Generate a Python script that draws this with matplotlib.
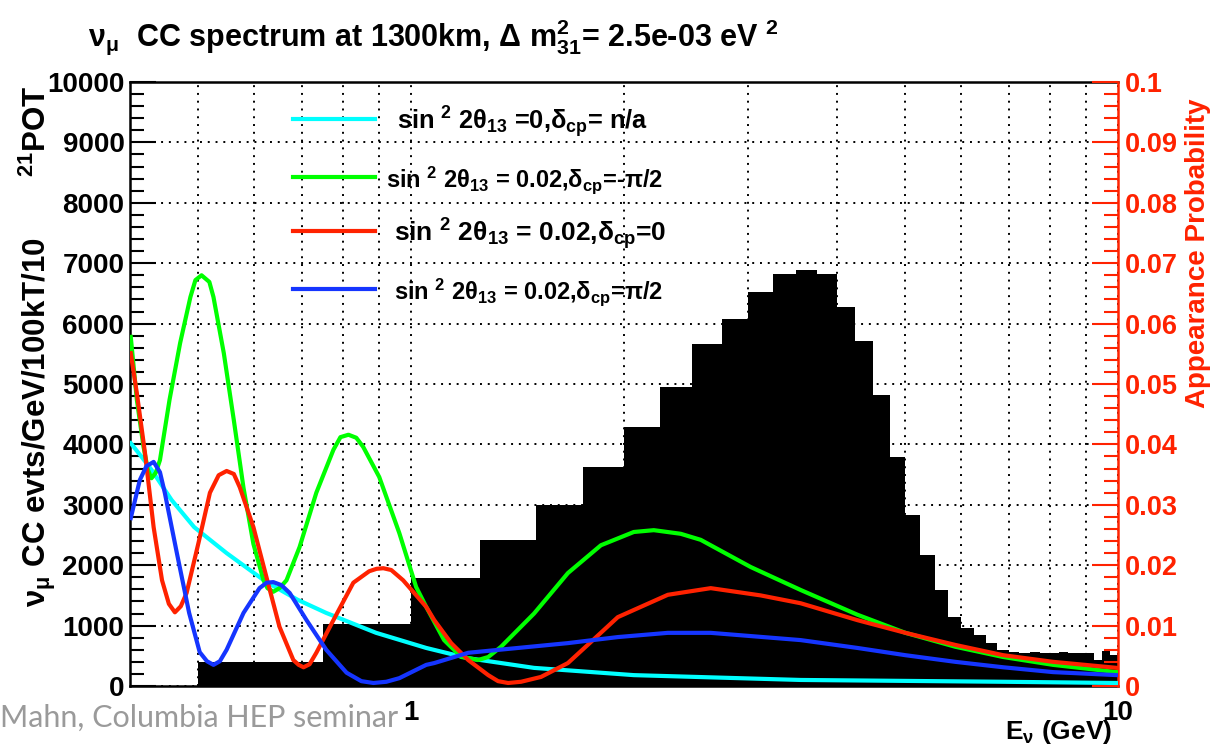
import numpy as np
import matplotlib
matplotlib.use('Agg')
from matplotlib import pyplot as plt
from matplotlib.ticker import MultipleLocator, FixedLocator, NullFormatter, FuncFormatter

plt.rcParams['font.family'] = ['Liberation Sans', 'DejaVu Sans']
plt.rcParams['font.weight'] = 'bold'
plt.rcParams['mathtext.fontset'] = 'custom'
plt.rcParams['mathtext.rm'] = 'Liberation Sans:bold'
plt.rcParams['mathtext.it'] = 'Liberation Sans:bold'
plt.rcParams['mathtext.bf'] = 'Liberation Sans:bold'
plt.rcParams['mathtext.default'] = 'rm'

RED = '#ff2200'
BLUE = '#1535ff'

# nu_mu CC spectrum, 0.25 GeV bins from 0.5 to 10 GeV
bin_edges = np.arange(0.5, 10.01, 0.25)
evts = [400, 1020, 1780, 2410, 3000, 3620, 4290, 4950, 5670, 6070,
        6520, 6820, 6880, 6820, 6270, 5720, 4820, 3790, 2830, 2170,
        1590, 1140, 960, 840, 710, 600, 560, 550, 560, 545,
        545, 560, 545, 550, 545, 430, 580, 510]

# appearance probability curves (energy in GeV)
cyan_e = [0.401, 0.415, 0.429, 0.458, 0.493, 0.548, 0.624, 0.690, 0.758, 0.892,
          1.050, 1.204, 1.492, 2.065, 3.556, 6.880, 9.967]
cyan_p = [0.0402, 0.0380, 0.0358, 0.0308, 0.0263, 0.0220, 0.0172, 0.0143, 0.0121, 0.0088,
          0.0063, 0.0046, 0.0030, 0.0018, 0.0010, 0.0007, 0.0005]

green_e = [0.401, 0.409, 0.418, 0.424, 0.429, 0.435, 0.441, 0.455, 0.471, 0.487,
           0.495, 0.505, 0.518, 0.525, 0.543, 0.561, 0.579, 0.598, 0.618, 0.626,
           0.638, 0.651, 0.666, 0.695, 0.734, 0.776, 0.794, 0.815, 0.836, 0.855,
           0.901, 0.962, 1.016, 1.050, 1.113, 1.177, 1.208, 1.243, 1.285, 1.340,
           1.492, 1.666, 1.855, 2.065, 2.204, 2.406, 2.568, 3.022, 3.556, 4.279,
           5.003, 5.886, 6.880, 8.093, 9.967]
green_p = [0.0578, 0.0474, 0.0396, 0.0358, 0.0344, 0.0353, 0.0374, 0.0474, 0.0568, 0.0644,
           0.0672, 0.0680, 0.0669, 0.0644, 0.0551, 0.0440, 0.0328, 0.0235, 0.0175, 0.0162,
           0.0156, 0.0162, 0.0175, 0.0230, 0.0320, 0.0391, 0.0412, 0.0416, 0.0411, 0.0396,
           0.0346, 0.0253, 0.0164, 0.0131, 0.0076, 0.0048, 0.0046, 0.0043, 0.0048, 0.0065,
           0.0120, 0.0187, 0.0233, 0.0255, 0.0258, 0.0252, 0.0242, 0.0197, 0.0159, 0.0118,
           0.0088, 0.0065, 0.0048, 0.0035, 0.0023]

red_e = [0.401, 0.409, 0.420, 0.432, 0.444, 0.454, 0.463, 0.472, 0.481, 0.500,
         0.519, 0.534, 0.548, 0.561, 0.572, 0.598, 0.624, 0.651, 0.681, 0.693,
         0.704, 0.718, 0.734, 0.776, 0.828, 0.872, 0.893, 0.913, 0.937, 0.974,
         1.050, 1.078, 1.139, 1.204, 1.285, 1.327, 1.371, 1.430, 1.526, 1.666,
         1.796, 1.960, 2.307, 2.653, 3.121, 3.556, 4.279, 5.003, 5.886, 6.880,
         8.093, 9.967]
red_p = [0.0551, 0.0485, 0.0386, 0.0263, 0.0175, 0.0136, 0.0122, 0.0132, 0.0154, 0.0237,
         0.0320, 0.0349, 0.0356, 0.0351, 0.0329, 0.0263, 0.0180, 0.0098, 0.0043, 0.0035,
         0.0031, 0.0036, 0.0055, 0.0109, 0.0171, 0.0190, 0.0194, 0.0195, 0.0192, 0.0175,
         0.0131, 0.0109, 0.0071, 0.0043, 0.0018, 0.0008, 0.0005, 0.0007, 0.0015, 0.0038,
         0.0073, 0.0114, 0.0151, 0.0162, 0.0150, 0.0137, 0.0109, 0.0088, 0.0068, 0.0051,
         0.0040, 0.0030]

blue_e = [0.401, 0.413, 0.422, 0.432, 0.441, 0.448, 0.466, 0.485, 0.502, 0.514,
          0.525, 0.536, 0.548, 0.579, 0.610, 0.624, 0.638, 0.655, 0.673, 0.711,
          0.758, 0.810, 0.850, 0.884, 0.922, 0.962, 1.050, 1.078, 1.204, 1.416,
          1.666, 1.960, 2.307, 2.653, 3.556, 4.279, 5.003, 5.886, 6.880, 8.093,
          9.967]
blue_p = [0.0278, 0.0341, 0.0364, 0.0371, 0.0354, 0.0320, 0.0220, 0.0121, 0.0056, 0.0041,
          0.0035, 0.0041, 0.0060, 0.0121, 0.0162, 0.0171, 0.0172, 0.0167, 0.0154, 0.0109,
          0.0060, 0.0022, 0.0008, 0.0005, 0.0007, 0.0013, 0.0035, 0.0038, 0.0055, 0.0063,
          0.0071, 0.0081, 0.0088, 0.0088, 0.0076, 0.0063, 0.0051, 0.0040, 0.0031, 0.0023,
          0.0018]

legend_labels = [r'sin $^{2}$ 2$\theta_{13}$ =0,$\delta_{cp}$= n/a',
                 r'sin $^{2}$ 2$\theta_{13}$ = 0.02,$\delta_{cp}$=-$\pi$/2',
                 r'sin $^{2}$ 2$\theta_{13}$ = 0.02,$\delta_{cp}$=0',
                 r'sin $^{2}$ 2$\theta_{13}$ = 0.02,$\delta_{cp}$=$\pi$/2']

fig = plt.figure(figsize=(12.17, 7.47), dpi=100)
ax = fig.add_axes([130/1217, 1-686/747, 988/1217, 604/747])
ax.set_xscale('log')
ax.set_xlim(0.4, 10)
ax.set_ylim(0, 10000)

ax.stairs(evts, bin_edges, fill=True, color='black', zorder=2)

gridkw = dict(color='black', linestyle=(0, (1, 3)), linewidth=1.4)
ax.xaxis.set_major_locator(FixedLocator([1, 10]))
ax.xaxis.set_minor_locator(FixedLocator([0.5, 0.6, 0.7, 0.8, 0.9, 2, 3, 4, 5, 6, 7, 8, 9]))
ax.xaxis.set_minor_formatter(NullFormatter())
ax.xaxis.set_major_formatter(FuncFormatter(lambda v, p: '{:g}'.format(v)))
ax.grid(True, which='both', axis='x', **gridkw)
ax.grid(True, which='major', axis='y', **gridkw)
ax.set_axisbelow(True)

ax.yaxis.set_major_locator(MultipleLocator(1000))
ax.yaxis.set_minor_locator(MultipleLocator(200))
ax.tick_params(axis='y', which='major', direction='in', length=19, width=1.5, labelsize=20, pad=4)
ax.tick_params(axis='y', which='minor', direction='in', length=10, width=1.5)
ax.tick_params(axis='x', which='both', length=0, labelsize=20, pad=10)
for s in ['left', 'top', 'bottom']:
    ax.spines[s].set_linewidth(1.8)
ax.spines['right'].set_visible(False)

ax2 = ax.twinx()
ax2.set_ylim(0, 0.1)
ax2.plot(cyan_e, cyan_p, color='#00ffff', lw=3, zorder=3)
ax2.plot(green_e, green_p, color='#00ff00', lw=3, zorder=3)
ax2.plot(red_e, red_p, color=RED, lw=3, zorder=3)
ax2.plot(blue_e, blue_p, color=BLUE, lw=3, zorder=3)

ax2.yaxis.set_major_locator(MultipleLocator(0.01))
ax2.yaxis.set_minor_locator(MultipleLocator(0.002))
ax2.yaxis.set_major_formatter(FuncFormatter(lambda v, p: '{:g}'.format(round(v, 3))))
ax2.tick_params(axis='y', which='major', direction='in', length=19, width=1.5,
                colors=RED, labelsize=19.5, pad=5)
ax2.tick_params(axis='y', which='minor', direction='in', length=10, width=1.5, colors=RED)
ax2.spines['right'].set_color(RED)
ax2.spines['right'].set_linewidth(1.8)
for s in ['left', 'top', 'bottom']:
    ax2.spines[s].set_visible(False)

# legend drawn by hand, no frame
leg_colors = ['#00ffff', '#00ff00', RED, BLUE]
leg_rows = [119, 177, 231, 289]
leg_sizes = [18.3, 17, 19, 17]
leg_cx = [522, 525, 530, 529]
for lbl, c, py, fs, cx in zip(legend_labels, leg_colors, leg_rows, leg_sizes, leg_cx):
    yf = (686 - py) / 604
    ax2.plot([(293-130)/988, (375-130)/988], [yf, yf], color=c, lw=3,
             transform=ax2.transAxes, clip_on=False)
    ax2.text((cx-130)/988, (686 - py - 10) / 604, lbl, fontsize=fs, ha='center',
             va='baseline', transform=ax2.transAxes)

fig.text(88/1217, 1-37/747,
         r'$\nu_{\mu}$  CC spectrum at 1300km, $\Delta$ m$^{2}_{31}$= 2.5e-03 eV $^{2}$',
         fontsize=22, ha='left', va='center')
fig.text(37/1217, 1-86/747, r'$\nu_{\mu}$ CC evts/GeV/100kT/10       $^{21}$POT',
         fontsize=22.5, rotation=90, ha='center', va='top')
fig.text(1198/1217, 1-98/747, 'Appearance Probability', color=RED,
         fontsize=20, rotation=90, ha='center', va='top')
fig.text(1112/1217, 1-732/747, r'E$_{\nu}$ (GeV)', fontsize=19, ha='right', va='center')
fig.text(0/1217, 1-718/747, 'Mahn, Columbia HEP seminar', color='#9a9a9a',
         fontsize=22, family='Lato', weight='normal', ha='left', va='center')

fig.savefig('out.png', dpi=100)
